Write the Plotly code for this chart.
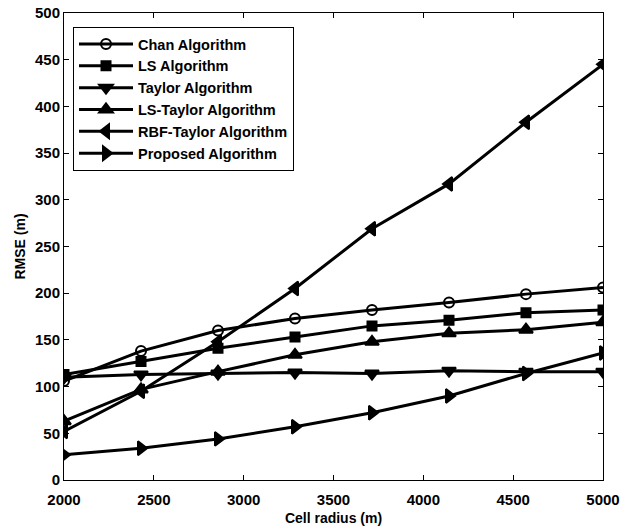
import plotly.graph_objects as go

cell_radius = [2000, 2428.6, 2857.1, 3285.7, 3714.3, 4142.9, 4571.4, 5000]
chan = [106, 138, 160, 173, 182, 190, 199, 206]
ls = [113, 127, 141, 153, 165, 171, 179, 182]
taylor = [110, 113, 114, 115, 114, 117, 116, 116]
ls_taylor = [63, 97, 116, 134, 148, 157, 161, 169]
rbf_taylor = [52, 95, 148, 205, 269, 317, 383, 445]
proposed = [27, 34, 44, 57, 72, 90, 114, 136]

series = [
    ("Chan Algorithm", chan, "circle-open", 10),
    ("LS Algorithm", ls, "square", 9),
    ("Taylor Algorithm", taylor, "triangle-down", 12),
    ("LS-Taylor Algorithm", ls_taylor, "triangle-up", 12),
    ("RBF-Taylor Algorithm", rbf_taylor, "triangle-left", 12),
    ("Proposed Algorithm", proposed, "triangle-right", 12),
]

font_family = "Arial, Liberation Sans, sans-serif"

fig = go.Figure()
for name, vals, sym, sz in series:
    fig.add_trace(go.Scatter(
        x=cell_radius, y=vals, name=name, mode="lines+markers",
        line=dict(color="black", width=3),
        marker=dict(symbol=sym, size=sz, color="black",
                    line=dict(color="black", width=2)),
    ))

axis_common = dict(
    showline=True, linecolor="black", linewidth=1, mirror="ticks",
    ticks="inside", ticklen=5, tickcolor="black", showgrid=False, zeroline=False,
    automargin=False, ticklabeloverflow="allow",
    tickfont=dict(family=font_family, size=15, color="black", weight="bold"),
)

fig.update_layout(
    width=621, height=526,
    margin=dict(l=64, r=18, t=13, b=46),
    paper_bgcolor="white", plot_bgcolor="white",
    font=dict(family=font_family, size=14, color="black", weight="bold"),
    xaxis=dict(range=[2000, 5000], dtick=500, ticklabelstandoff=6,
               title=dict(text="Cell radius (m)", standoff=7,
                          font=dict(family=font_family, size=14, weight="bold")),
               **axis_common),
    yaxis=dict(range=[0, 500], dtick=50,
               title=dict(text="RMSE (m)", standoff=6,
                          font=dict(family=font_family, size=14, weight="bold")),
               **axis_common),
    legend=dict(x=0.0167, y=0.97, xanchor="left", yanchor="top",
                itemwidth=54,
                bordercolor="black", borderwidth=1, bgcolor="white",
                font=dict(family=font_family, size=14.5, color="black", weight="bold")),
)

fig.write_html("out.html", config={"displayModeBar": False},
               post_script="document.body.style.margin='0';")
